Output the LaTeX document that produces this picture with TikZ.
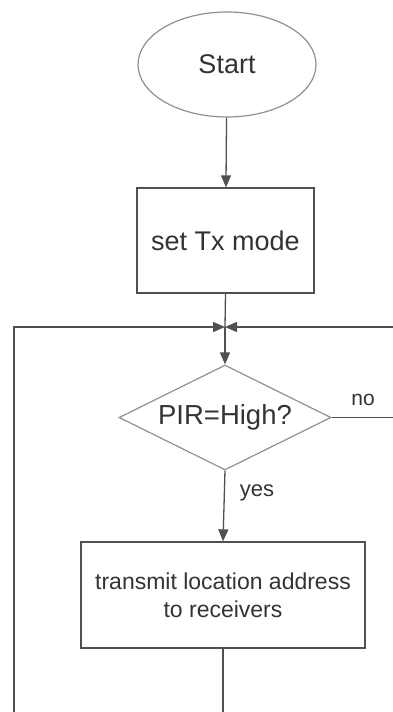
\documentclass[tikz,border=0pt]{standalone}
\usepackage{fontspec}
\setmainfont{Liberation Sans}
\usetikzlibrary{shapes.geometric,arrows.meta}
\definecolor{linec}{HTML}{505050}
\definecolor{lightc}{HTML}{909090}
\definecolor{textc}{HTML}{333333}
\tikzset{
  every node/.style={text=textc},
  startnode/.style={ellipse,draw=lightc,line width=1.2pt,minimum width=178pt,minimum height=105pt,inner sep=0pt,font=\fontsize{27}{31}\selectfont},
  procbox/.style={rectangle,draw=linec,line width=1.3pt,inner sep=0pt,font=\fontsize{27}{31}\selectfont},
  decision/.style={diamond,aspect=2,draw=lightc,line width=1.2pt,minimum width=212pt,minimum height=105pt,inner sep=0pt,font=\fontsize{27.5}{31}\selectfont},
  lbl/.style={font=\fontsize{21}{24}\selectfont,inner sep=0pt},
  conn/.style={draw=linec,line width=1.3pt},
  arr/.style={conn,-{Triangle[length=12pt,width=10pt]}},
}
\begin{document}
\begin{tikzpicture}[x=1pt,y=-1pt]
\useasboundingbox (0,0) rectangle (393,712);
\node[startnode] (start) at (227,64.5) {Start};
\node[procbox,minimum width=177pt,minimum height=105pt] (settx) at (225.5,240.5) {set Tx mode};
\coordinate (junc) at (225,327);
\coordinate (lefttop) at (14,327);
\coordinate (leftbot) at (14,712);
\coordinate (righttop) at (393,327);
\node[decision] (pir) at (225,417.5) {PIR=High?};
\coordinate (noend) at (393,417.5);
\node[procbox,minimum width=284pt,minimum height=106pt,align=center,font=\fontsize{23}{28}\selectfont] (tx) at (223,595) {transmit location address\\to receivers};
\coordinate (txbot) at (223,712);
\node[lbl] (no) at (363,400) {no};
\node[lbl,font=\fontsize{22}{24}\selectfont] (yes) at (257,493) {yes};
\draw[arr] (start) -- (settx);
\draw[conn] (settx.south) -- (junc);
\draw[arr] (leftbot) -- (lefttop) -- (junc);
\draw[arr] (righttop) -- (junc);
\draw[arr] (junc) -- (pir.north);
\draw[conn] (pir.east) -- (noend);
\draw[arr] (pir.south) -- (tx.north);
\draw[conn] (tx.south) -- (txbot);
\end{tikzpicture}
\end{document}
